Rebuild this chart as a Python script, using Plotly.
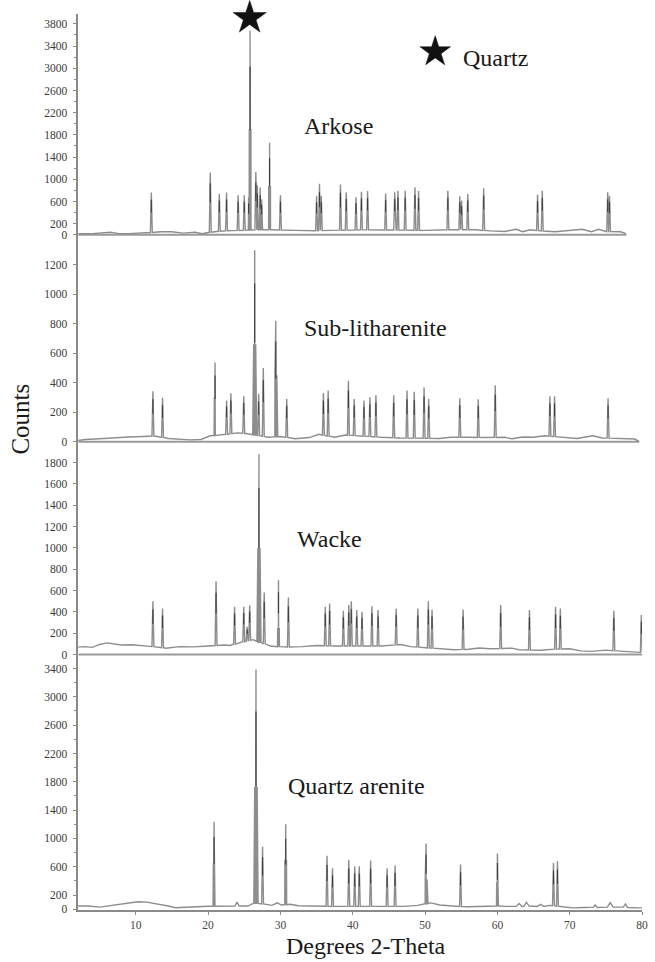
import numpy as np
import plotly.graph_objects as go

# ---------------- XRD data (2-theta in degrees, intensity in counts) ----------------
# Arkose
ARKOSE_PEAK_X = [12.15, 20.3, 21.55, 22.55, 24.15, 25.0, 25.6, 25.8, 26.6, 26.8, 27.2, 27.4,
                 28.5, 30.0, 35.0, 35.4, 35.65, 38.3, 39.1, 40.45, 41.2, 42.05, 44.55, 45.8,
                 46.25, 47.25, 48.6, 49.1, 53.15, 54.8, 55.05, 55.9, 58.1, 65.55, 66.2, 75.25, 75.5]
ARKOSE_PEAK_Y = [760, 1120, 740, 760, 710, 710, 670, 3680, 1130, 890, 850, 640,
                 1660, 710, 700, 920, 700, 905, 765, 675, 775, 790, 745, 765,
                 795, 795, 855, 790, 795, 695, 615, 735, 840, 725, 795, 765, 705]
ARKOSE_SHOULDER_X = [25.7, 25.92, 28.38, 28.62]
ARKOSE_SHOULDER_Y = [1900, 1900, 880, 880]
ARKOSE_BG_X = [2.0, 4.0, 6.5, 7.5, 9.0, 11.0, 13.5, 15.0, 16.5, 18.2, 19.2, 20.0, 22.0, 24.5,
               27.0, 29.0, 32.0, 34.0, 37.0, 42.0, 46.0, 50.0, 52.0, 57.0, 59.0, 61.0, 62.6,
               63.5, 64.5, 66.0, 68.0, 71.7, 73.0, 74.0, 75.0, 77.0, 77.6, 77.8]
ARKOSE_BG_Y = [20, 20, 45, 25, 20, 30, 55, 55, 30, 45, 20, 40, 70, 80,
               90, 90, 80, 70, 80, 90, 85, 80, 90, 90, 70, 60, 100,
               55, 90, 70, 55, 100, 55, 100, 60, 55, 30, 0]

# Sub-litharenite
SUBLITH_PEAK_X = [12.37, 13.7, 20.96, 22.56, 23.15, 24.93, 26.44, 26.99, 27.63, 29.36, 30.87,
                  35.94, 36.6, 39.4, 40.2, 41.55, 42.37, 43.2, 45.66, 47.5, 48.5, 49.86, 50.5,
                  54.8, 57.35, 59.7, 67.26, 67.9, 75.3]
SUBLITH_PEAK_Y = [342, 297, 537, 279, 328, 308, 1297, 324, 499, 820, 290,
                  330, 346, 413, 290, 279, 301, 315, 315, 346, 339, 368, 290,
                  294, 288, 382, 308, 308, 294]
SUBLITH_SHOULDER_X = [26.3, 26.58, 29.24, 29.5, 20.86, 21.06]
SUBLITH_SHOULDER_Y = [660, 660, 450, 450, 300, 300]
SUBLITH_BG_X = [2.0, 3.0, 5.0, 7.0, 9.0, 11.0, 12.0, 13.0, 14.5, 16.0, 17.5, 19.0, 20.3, 21.8,
                24.0, 25.5, 28.3, 30.0, 32.0, 34.0, 35.3, 37.5, 39.0, 44.0, 46.5, 52.0, 53.5,
                56.0, 58.5, 61.0, 62.0, 63.5, 65.0, 66.5, 69.0, 71.0, 73.2, 74.5, 77.0, 79.0, 79.6]
SUBLITH_BG_Y = [8, 15, 20, 28, 32, 35, 40, 35, 22, 18, 12, 15, 40, 45,
                60, 55, 30, 35, 20, 28, 50, 30, 45, 30, 25, 22, 30,
                30, 28, 30, 20, 32, 30, 40, 30, 22, 40, 25, 22, 18, 0]

# Wacke
WACKE_PEAK_X = [12.37, 13.7, 21.1, 23.66, 24.93, 25.4, 25.75, 27.03, 27.76, 29.73, 31.1,
                36.2, 36.8, 38.7, 39.45, 39.8, 40.55, 41.28, 42.65, 43.5, 46.0, 49.0, 50.45,
                50.96, 55.25, 60.45, 64.43, 68.04, 68.7, 76.1, 79.9]
WACKE_PEAK_Y = [500, 432, 687, 448, 448, 260, 463, 1878, 582, 697, 535,
                448, 479, 410, 464, 501, 417, 401, 454, 417, 432, 432, 501,
                423, 423, 464, 417, 448, 432, 410, 370]
WACKE_SHOULDER_X = [26.88, 27.18, 29.62, 29.84]
WACKE_SHOULDER_Y = [1000, 1000, 250, 250]
WACKE_BG_X = [2.0, 3.0, 4.0, 5.0, 6.0, 7.0, 8.0, 9.5, 11.0, 12.0, 14.2, 16.0, 18.0, 20.0, 22.3,
              23.0, 24.3, 26.2, 28.6, 30.5, 33.0, 35.0, 37.5, 44.0, 45.0, 46.6, 48.0, 52.0,
              54.0, 56.0, 57.5, 59.0, 62.0, 63.0, 66.0, 67.2, 70.0, 71.5, 73.0, 75.0, 77.5,
              79.5, 80.0]
WACKE_BG_Y = [70, 75, 68, 95, 110, 100, 90, 92, 80, 78, 60, 75, 72, 80, 90,
              85, 110, 140, 80, 70, 75, 85, 80, 80, 85, 95, 75, 55,
              45, 50, 62, 55, 60, 45, 40, 50, 55, 35, 30, 42, 30,
              25, 20]

# Quartz arenite
QA_PEAK_X = [20.82, 26.62, 27.53, 30.73, 36.44, 37.2, 39.45, 40.27, 40.9, 42.47, 44.75,
             45.85, 50.14, 54.9, 60.0, 67.75, 68.3]
QA_PEAK_Y = [1236, 3386, 881, 1199, 755, 578, 694, 606, 606, 690, 578,
             616, 928, 630, 788, 653, 676]
QA_SHOULDER_X = [26.45, 26.78, 20.72, 20.93, 30.62, 30.84, 50.02, 50.27, 59.9, 60.1]
QA_SHOULDER_Y = [1730, 1730, 650, 650, 700, 700, 420, 420, 380, 380]
QA_BG_X = [2.0, 3.5, 5.0, 6.0, 7.5, 9.0, 10.3, 11.5, 12.5, 13.5, 14.5, 15.5, 17.0, 18.5, 20.0,
           22.0, 23.7, 24.0, 24.3, 25.5, 26.2, 27.9, 28.8, 29.6, 30.1, 31.3, 32.5, 34.0,
           38.0, 43.0, 47.0, 49.0, 50.8, 52.0, 53.5, 56.0, 58.0, 59.3, 61.0, 62.6, 63.0,
           63.4, 63.7, 64.0, 64.4, 65.5, 66.0, 66.4, 67.2, 69.0, 70.5, 72.0, 73.3, 73.5,
           73.8, 75.2, 75.6, 76.0, 77.4, 77.7, 78.0, 79.5, 80.0]
QA_BG_Y = [45, 45, 30, 45, 65, 90, 105, 100, 85, 60, 45, 22, 30, 42, 42,
           42, 45, 100, 45, 45, 90, 70, 55, 90, 60, 70, 50, 45,
           40, 40, 40, 55, 90, 60, 45, 35, 45, 50, 40, 40, 80,
           40, 45, 100, 45, 40, 70, 40, 55, 35, 20, 25, 30, 60,
           25, 30, 95, 30, 30, 75, 25, 20, 20]

SAMPLE_NAMES = ["Arkose", "Sub-litharenite", "Wacke", "Quartz arenite"]
TICKS_2THETA = [10, 20, 30, 40, 50, 60, 70, 80]
Y_TICKS = [
    [0, 200, 600, 1000, 1400, 1800, 2200, 2600, 3000, 3400, 3800],
    [0, 200, 400, 600, 800, 1000, 1200],
    [0, 200, 400, 600, 800, 1000, 1200, 1400, 1600, 1800],
    [0, 200, 600, 1000, 1400, 1800, 2200, 2600, 3000, 3400],
]
QUARTZ_MAIN_2THETA = 25.75   # starred reflection in the arkose pattern
QUARTZ_KEY_2THETA = 51.4     # position of the key star

# ---------------- page geometry (pixels) ----------------
W, H = 655, 962
X_LEFT, X_RIGHT = 79, 648
X_RANGE = [2.05, 80]
# top, bottom, zero line, pixel of top labelled tick
PANELS = [
    dict(top=14, bottom=238, zero=236, ref_px=24),
    dict(top=238, bottom=446, zero=444, ref_px=266),
    dict(top=446, bottom=660, zero=658, ref_px=465),
    dict(top=660, bottom=915, zero=914, ref_px=672),
]
DATA_END = [77.8, 79.6, 80.0, 80.0]
REF_VAL = [3800, 1200, 1800, 3400]

LINE_GRAY = "#8d8d8d"
CORE_DARK = "#3c3c3c"
AXIS_GRAY = "#8a8a8a"
SERIF = "Liberation Serif, Times New Roman, serif"
HALF_W = 0.13


def profile(bg_x, bg_y, pk_x, pk_y, sh_x, sh_y):
    """Baseline polyline with narrow triangular reflections inserted."""
    bg_x = np.asarray(bg_x, float)
    bg_y = np.asarray(bg_y, float)
    all_px = list(pk_x) + list(sh_x)
    all_py = list(pk_y) + list(sh_y)
    pts = []
    for x, y in zip(bg_x, bg_y):
        if all(abs(x - p) > HALF_W for p in all_px):
            pts.append((x, y))
    for p, h in zip(all_px, all_py):
        b = float(np.interp(p, bg_x, bg_y))
        pts += [(p - HALF_W, b), (p, h), (p + HALF_W, b)]
    pts.sort(key=lambda t: t[0])
    xs, ys = zip(*pts)
    return list(xs), list(ys)


def cores(bg_x, bg_y, pk_x, pk_y):
    """Darker mid-height strokes of each reflection."""
    xs, ys = [], []
    for p, h in zip(pk_x, pk_y):
        b = float(np.interp(p, bg_x, bg_y))
        xs += [p, p, None]
        ys += [b + 0.5 * (h - b), b + 0.82 * (h - b), None]
    return xs, ys


datasets = [
    (ARKOSE_BG_X, ARKOSE_BG_Y, ARKOSE_PEAK_X, ARKOSE_PEAK_Y, ARKOSE_SHOULDER_X, ARKOSE_SHOULDER_Y),
    (SUBLITH_BG_X, SUBLITH_BG_Y, SUBLITH_PEAK_X, SUBLITH_PEAK_Y, SUBLITH_SHOULDER_X, SUBLITH_SHOULDER_Y),
    (WACKE_BG_X, WACKE_BG_Y, WACKE_PEAK_X, WACKE_PEAK_Y, WACKE_SHOULDER_X, WACKE_SHOULDER_Y),
    (QA_BG_X, QA_BG_Y, QA_PEAK_X, QA_PEAK_Y, QA_SHOULDER_X, QA_SHOULDER_Y),
]

fig = go.Figure()
layout = dict(
    width=W, height=H,
    margin=dict(l=0, r=0, t=0, b=0),
    paper_bgcolor="white", plot_bgcolor="white",
    showlegend=False,
    font=dict(family=SERIF, color="#222"),
)
shapes = []
scales = []

for i, (pan, ds) in enumerate(zip(PANELS, datasets), start=1):
    sfx = "" if i == 1 else str(i)
    scale = (pan["zero"] - pan["ref_px"]) / REF_VAL[i - 1]
    scales.append(scale)
    y_lo = -(pan["bottom"] - pan["zero"]) / scale
    y_hi = (pan["zero"] - pan["top"]) / scale

    bx, by, pxs, pys, sxs, sys_ = ds
    lx, ly = profile(bx, by, pxs, pys, sxs, sys_)
    fig.add_trace(go.Scatter(x=lx, y=ly, mode="lines",
                             line=dict(color=LINE_GRAY, width=1.4),
                             xaxis="x" + sfx, yaxis="y" + sfx, hoverinfo="skip"))
    cx, cy = cores(bx, by, pxs, pys)
    fig.add_trace(go.Scatter(x=cx, y=cy, mode="lines",
                             line=dict(color=CORE_DARK, width=1.1),
                             xaxis="x" + sfx, yaxis="y" + sfx, hoverinfo="skip"))

    bottom_panel = i == len(PANELS)
    layout["xaxis" + sfx] = dict(
        domain=[X_LEFT / W, X_RIGHT / W], range=X_RANGE, anchor="y" + sfx,
        showgrid=False, zeroline=False,
        showline=bottom_panel, linecolor=AXIS_GRAY, linewidth=2,
        ticks="outside" if bottom_panel else "", ticklen=3, tickcolor=AXIS_GRAY,
        tickvals=TICKS_2THETA, showticklabels=bottom_panel,
        tickfont=dict(family=SERIF, size=11.5, color="#444"),
    )
    minor = dict(dtick=200, tick0=0, ticklen=3, tickcolor=AXIS_GRAY, ticks="outside") \
        if i in (1, 4) else None
    yax = dict(
        domain=[1 - pan["bottom"] / H, 1 - pan["top"] / H], range=[y_lo, y_hi],
        anchor="x" + sfx, showgrid=False, zeroline=False,
        showline=True, linecolor=AXIS_GRAY, linewidth=1.5,
        ticks="outside", ticklen=4, tickcolor=AXIS_GRAY,
        tickvals=Y_TICKS[i - 1], ticktext=[str(v) for v in Y_TICKS[i - 1]],
        tickfont=dict(family=SERIF, size=11.5, color="#3a3a3a"),
        ticklabelstandoff=3,
    )
    if minor:
        yax["minor"] = minor
    layout["yaxis" + sfx] = yax

    if not bottom_panel:
        shapes.append(dict(type="line", xref="x" + sfx, yref="y" + sfx,
                           x0=X_RANGE[0], x1=DATA_END[i - 1], y0=0, y1=0,
                           line=dict(color="#9a9a9a", width=2), layer="below"))

# star above the main quartz reflection and the key star
for sx, spx, ssize in [(QUARTZ_MAIN_2THETA, 18, 25), (QUARTZ_KEY_2THETA, 52, 23)]:
    fig.add_trace(go.Scatter(
        x=[sx], y=[(PANELS[0]["zero"] - spx) / scales[0]], mode="markers",
        marker=dict(symbol="star", size=ssize, color="#111111",
                    line=dict(width=0.5, color="#111111")),
        cliponaxis=False, xaxis="x", yaxis="y", hoverinfo="skip"))

annotations = [
    dict(text="Quartz", x=465 / W, y=1 - 58 / H, xanchor="left", yanchor="middle",
         font=dict(size=24)),
]
label_pos = [(305, 127), (305, 330), (298, 542), (289, 790)]
for name, (lx_, ly_) in zip(SAMPLE_NAMES, label_pos):
    annotations.append(dict(text=name, x=lx_ / W, y=1 - ly_ / H,
                            xanchor="left", yanchor="middle", font=dict(size=24)))
annotations.append(dict(text="Counts", x=21 / W, y=1 - 421 / H, textangle=-90,
                        xanchor="center", yanchor="middle", font=dict(size=25)))
annotations.append(dict(text="Degrees 2-Theta", x=369 / W, y=1 - 951 / H,
                        xanchor="center", yanchor="middle", font=dict(size=24)))
for a in annotations:
    a.update(xref="paper", yref="paper", showarrow=False)
    a["font"].update(family=SERIF, color="#1a1a1a")

layout["annotations"] = annotations
layout["shapes"] = shapes
fig.update_layout(**layout)

fig.write_html("out.html")
